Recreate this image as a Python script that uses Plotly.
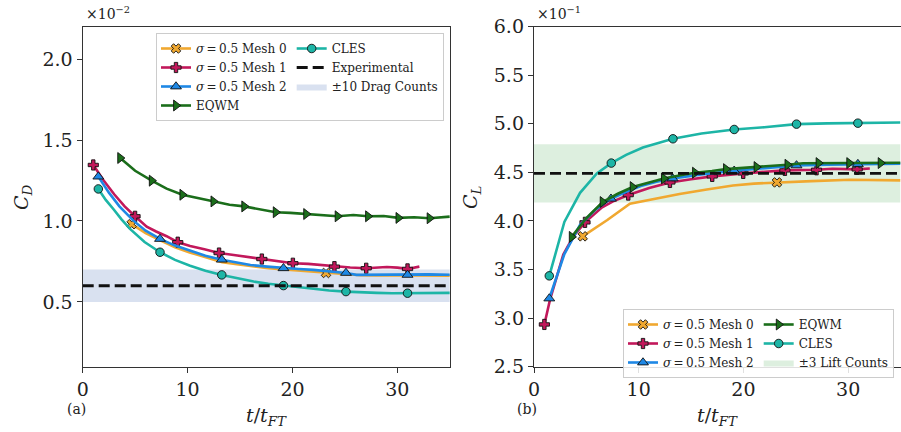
import plotly.graph_objects as go

# ---------------- Drag coefficient (values in units of 1e-2) ----------------
cd_mesh0_t = [4.67, 6.0, 7.4, 8.8, 10.2, 11.7, 13.3, 14.7, 16.2, 17.7, 19.2, 20.7, 22.0, 23.2,
              25.0, 26.5, 28.0, 30.0, 32.0, 35.0]
cd_mesh0 = [0.98, 0.925, 0.88, 0.838, 0.806, 0.778, 0.745, 0.733, 0.720, 0.708, 0.700, 0.693,
            0.686, 0.679, 0.672, 0.665, 0.664, 0.662, 0.663, 0.662]
cd_mesh0_marks = [0, 13]

cd_mesh1_t = [1.01, 2.0, 3.0, 4.0, 4.99, 6.1, 7.0, 8.0, 9.06, 10.24, 11.6, 13.0, 14.4, 15.7, 17.08,
              18.5, 20.04, 21.5, 22.8, 24.0, 25.5, 27.03, 28.0, 29.0, 30.0, 30.97, 32.1]
cd_mesh1 = [1.346, 1.25, 1.165, 1.09, 1.029, 0.965, 0.935, 0.906, 0.869, 0.845, 0.826, 0.802, 0.790,
            0.778, 0.765, 0.752, 0.739, 0.735, 0.727, 0.718, 0.713, 0.708, 0.712, 0.716, 0.712,
            0.704, 0.718]
cd_mesh1_marks = [0, 4, 8, 11, 14, 16, 19, 21, 25]

cd_mesh2_t = [1.49, 2.5, 3.5, 4.83, 6.0, 7.37, 8.8, 10.24, 11.7, 13.26, 14.6, 16.0, 17.6, 19.14,
              20.6, 22.0, 23.5, 25.1, 26.1, 27.5, 29.0, 30.97, 33.0, 35.0]
cd_mesh2 = [1.274, 1.175, 1.09, 1.002, 0.94, 0.889, 0.848, 0.817, 0.785, 0.761, 0.745, 0.728, 0.718,
            0.708, 0.703, 0.698, 0.690, 0.679, 0.667, 0.668, 0.668, 0.667, 0.670, 0.668]
cd_mesh2_marks = [0, 5, 9, 13, 17, 21]

cd_eqwm_t = [3.57, 5.0, 6.58, 8.0, 9.5, 11.0, 12.46, 14.0, 15.4, 16.9, 18.4, 19.8, 21.3, 22.8,
             24.3, 25.8, 27.2, 28.7, 30.1, 31.6, 33.07, 35.0]
cd_eqwm = [1.389, 1.31, 1.249, 1.200, 1.162, 1.140, 1.121, 1.100, 1.090, 1.074, 1.054, 1.050, 1.043,
           1.036, 1.029, 1.037, 1.029, 1.031, 1.019, 1.023, 1.017, 1.027]
cd_eqwm_marks = [0, 2, 4, 6, 8, 10, 12, 14, 16, 18, 20]

cd_cles_t = [1.49, 2.2, 2.92, 3.7, 4.51, 5.9, 7.37, 8.8, 10.24, 11.7, 13.26, 14.8, 16.3, 17.7,
             19.14, 20.6, 22.0, 23.5, 25.1, 26.6, 28.05, 29.5, 30.97, 33.0, 35.0]
cd_cles = [1.198, 1.13, 1.074, 1.01, 0.951, 0.87, 0.807, 0.76, 0.724, 0.693, 0.667, 0.645, 0.626,
           0.612, 0.601, 0.59, 0.58, 0.571, 0.564, 0.559, 0.556, 0.554, 0.554, 0.555, 0.556]
cd_cles_marks = [0, 6, 10, 14, 18, 22]

cd_exp = 0.6
cd_band = 0.1  # +/- 10 drag counts

# ---------------- Lift coefficient (values in units of 1e-1) ----------------
cl_mesh0_t = [4.65, 7.0, 9.16, 11.5, 13.9, 16.5, 19.0, 21.0, 23.2, 26.5, 30.2, 35.0]
cl_mesh0 = [3.842, 4.01, 4.178, 4.23, 4.277, 4.325, 4.366, 4.385, 4.397, 4.41, 4.425, 4.418]
cl_mesh0_marks = [0, 8]

cl_mesh1_t = [0.99, 1.53, 2.8, 3.75, 4.87, 6.5, 7.5, 9.0, 11.0, 12.98, 15.0, 17.02, 19.98, 22.0,
              23.96, 26.98, 28.5, 30.86, 32.07]
cl_mesh1 = [2.935, 3.19, 3.654, 3.84, 3.986, 4.14, 4.2, 4.267, 4.34, 4.397, 4.43, 4.459, 4.49, 4.505,
            4.521, 4.527, 4.537, 4.531, 4.541]
cl_mesh1_marks = [0, 4, 7, 9, 11, 12, 14, 15, 17]

cl_mesh2_t = [1.46, 2.9, 4.4, 5.9, 7.35, 8.8, 10.2, 11.7, 13.24, 16.0, 19.12, 22.0, 25.07, 28.0,
              30.93, 35.0]
cl_mesh2 = [3.202, 3.66, 3.96, 4.12, 4.229, 4.30, 4.36, 4.405, 4.438, 4.48, 4.517, 4.545, 4.572,
            4.58, 4.586, 4.59]
cl_mesh2_marks = [0, 4, 8, 10, 12, 14]

cl_eqwm_t = [3.6, 5.0, 6.55, 8.0, 9.42, 11.0, 12.4, 14.0, 15.37, 17.0, 18.33, 20.0, 21.25, 23.0,
             24.2, 25.7, 27.17, 28.7, 30.1, 31.5, 33.1, 35.0]
cl_eqwm = [3.836, 4.03, 4.195, 4.28, 4.349, 4.40, 4.438, 4.47, 4.497, 4.515, 4.534, 4.547, 4.555,
           4.568, 4.579, 4.595, 4.596, 4.59, 4.596, 4.598, 4.596, 4.6]
cl_eqwm_marks = [0, 2, 4, 6, 8, 10, 12, 14, 16, 18, 20]

cl_cles_t = [1.46, 2.9, 4.4, 6.0, 7.38, 8.8, 10.4, 11.8, 13.27, 16.0, 19.12, 22.0, 25.07, 28.0,
             30.93, 35.0]
cl_cles = [3.435, 3.99, 4.29, 4.49, 4.596, 4.68, 4.757, 4.80, 4.846, 4.90, 4.942, 4.965, 4.997,
           5.005, 5.007, 5.014]
cl_cles_marks = [0, 4, 8, 10, 12, 14]

cl_exp = 4.49
cl_band = 0.3  # +/- 3 lift counts

x_ticks = [0, 10, 20, 30]
cd_ticks = [0.5, 1.0, 1.5, 2.0]
cl_ticks = [2.5, 3.0, 3.5, 4.0, 4.5, 5.0, 5.5, 6.0]

# ---------------- styling ----------------
W, H = 901, 432
FONT = "DejaVu Serif"
C_MESH0 = "#F0A830"
C_MESH1 = "#C2185B"
C_MESH2 = "#1E88E5"
C_EQWM = "#1B6E1B"
C_CLES = "#1DB5A6"
SPINE = "#333333"
TEXT = "#222222"

SIGMA = "<i>σ</i>\u2009=\u20090.5"
series_style = {
    "mesh0": dict(color=C_MESH0, symbol="x", size=8.5, name=f"{SIGMA} Mesh 0"),
    "mesh1": dict(color=C_MESH1, symbol="cross", size=8.5, name=f"{SIGMA} Mesh 1"),
    "mesh2": dict(color=C_MESH2, symbol="triangle-up", size=9.5, name=f"{SIGMA} Mesh 2"),
    "eqwm": dict(color=C_EQWM, symbol="triangle-right", size=9.5, name="EQWM"),
    "cles": dict(color=C_CLES, symbol="circle", size=8.5, name="CLES"),
}

fig = go.Figure()


def add_series(key, t, v, marks, xa, ya):
    st = series_style[key]
    fig.add_trace(go.Scatter(x=t, y=v, mode="lines", line=dict(color=st["color"], width=2.6),
                             xaxis=xa, yaxis=ya, showlegend=False, hoverinfo="skip"))
    fig.add_trace(go.Scatter(x=[t[i] for i in marks], y=[v[i] for i in marks], mode="markers",
                             marker=dict(color=st["color"], symbol=st["symbol"], size=st["size"],
                                         line=dict(color="#111111", width=0.9)),
                             xaxis=xa, yaxis=ya, showlegend=False))


def add_legend_entry(key, legend, group, rank):
    st = series_style[key]
    fig.add_trace(go.Scatter(x=[None], y=[None], mode="lines+markers", name=st["name"],
                             line=dict(color=st["color"], width=2.6),
                             marker=dict(color=st["color"], symbol=st["symbol"], size=st["size"],
                                         line=dict(color="#111111", width=0.9)),
                             legend=legend, legendgroup=group, legendrank=rank,
                             xaxis="x" if legend == "legend" else "x2",
                             yaxis="y" if legend == "legend" else "y2"))


def add_band(center, half, xa, ya, color, name, legend, group, rank):
    fig.add_trace(go.Scatter(x=[0, 35, 35, 0, 0],
                             y=[center - half, center - half, center + half, center + half,
                                center - half],
                             mode="lines", fill="toself", fillcolor=color, line=dict(width=0),
                             name=name, legend=legend, legendgroup=group, legendrank=rank,
                             xaxis=xa, yaxis=ya, hoverinfo="skip"))


# ---- panel (a): drag ----
add_band(cd_exp, cd_band, "x", "y", "rgba(180,195,225,0.5)", "±10 Drag Counts", "legend", "b", 7)
add_series("mesh0", cd_mesh0_t, cd_mesh0, cd_mesh0_marks, "x", "y")
add_series("mesh1", cd_mesh1_t, cd_mesh1, cd_mesh1_marks, "x", "y")
add_series("mesh2", cd_mesh2_t, cd_mesh2, cd_mesh2_marks, "x", "y")
add_series("eqwm", cd_eqwm_t, cd_eqwm, cd_eqwm_marks, "x", "y")
add_series("cles", cd_cles_t, cd_cles, cd_cles_marks, "x", "y")
fig.add_trace(go.Scatter(x=[0, 35], y=[cd_exp, cd_exp], mode="lines", name="Experimental",
                         line=dict(color="#111111", width=2.8, dash="11px,5px"),
                         legend="legend", legendgroup="b", legendrank=6, xaxis="x", yaxis="y"))
add_legend_entry("mesh0", "legend", "a", 1)
add_legend_entry("mesh1", "legend", "a", 2)
add_legend_entry("mesh2", "legend", "a", 3)
add_legend_entry("eqwm", "legend", "a", 4)
add_legend_entry("cles", "legend", "b", 5)

# ---- panel (b): lift ----
add_band(cl_exp, cl_band, "x2", "y2", "rgba(170,215,175,0.4)", "±3 Lift Counts", "legend2", "d", 6)
add_series("mesh0", cl_mesh0_t, cl_mesh0, cl_mesh0_marks, "x2", "y2")
add_series("mesh1", cl_mesh1_t, cl_mesh1, cl_mesh1_marks, "x2", "y2")
add_series("mesh2", cl_mesh2_t, cl_mesh2, cl_mesh2_marks, "x2", "y2")
add_series("eqwm", cl_eqwm_t, cl_eqwm, cl_eqwm_marks, "x2", "y2")
add_series("cles", cl_cles_t, cl_cles, cl_cles_marks, "x2", "y2")
fig.add_trace(go.Scatter(x=[0, 35], y=[cl_exp, cl_exp], mode="lines", showlegend=False,
                         line=dict(color="#111111", width=2.8, dash="11px,5px"),
                         xaxis="x2", yaxis="y2"))
add_legend_entry("mesh0", "legend2", "c", 1)
add_legend_entry("mesh1", "legend2", "c", 2)
add_legend_entry("mesh2", "legend2", "c", 3)
add_legend_entry("eqwm", "legend2", "d", 4)
add_legend_entry("cles", "legend2", "d", 5)

# ---- axes ----
y_dom = [1 - 366.7 / H, 1 - 26.7 / H]
axis_common = dict(showline=True, mirror=True, linecolor=SPINE, linewidth=1.4, ticks="outside",
                   ticklen=5, tickwidth=1.2, tickcolor=SPINE, showgrid=False, zeroline=False,
                   automargin=False, tickfont=dict(family=FONT, size=19, color=TEXT))

legend_common = dict(orientation="h", traceorder="grouped",
                     font=dict(family=FONT, size=12, color=TEXT),
                     bgcolor="rgba(255,255,255,0.85)", bordercolor="#cccccc",
                     borderwidth=1, itemwidth=30, tracegroupgap=10, xanchor="left")

fig.update_layout(
    width=W, height=H, margin=dict(l=0, r=0, t=0, b=0, autoexpand=False),
    paper_bgcolor="white", plot_bgcolor="white",
    xaxis=dict(domain=[82.7 / W, 449.8 / W], range=[0, 35], tickvals=x_ticks, anchor="y",
               **axis_common),
    yaxis=dict(domain=y_dom, range=[0.1, 2.2], tickvals=cd_ticks,
               ticktext=[f"{v:.1f}" for v in cd_ticks], anchor="x", **axis_common),
    xaxis2=dict(domain=[534.0 / W, 900.5 / W], range=[0, 35], tickvals=x_ticks, anchor="y2",
                **axis_common),
    yaxis2=dict(domain=y_dom, range=[2.5, 6.0], tickvals=cl_ticks,
                ticktext=[f"{v:.1f}" for v in cl_ticks], anchor="x2", **axis_common),
    legend=dict(x=156 / W, y=1 - 33 / H, yanchor="top", **legend_common),
    legend2=dict(x=623 / W, y=1 - 378 / H, yanchor="bottom", **legend_common),
)


def label(text, px, py, size, angle=0):
    return dict(text=text, x=px / W, y=1 - py / H, xref="paper", yref="paper",
                xanchor="center", yanchor="middle", showarrow=False, textangle=angle,
                font=dict(family=FONT, size=size, color=TEXT))


fig.update_layout(annotations=[
    label("×10<sup>−2</sup>", 108, 13, 14),
    label("×10<sup>−1</sup>", 559, 13, 14),
    label("<i>C<sub>D</sub></i>", 22, 197, 19, -90),
    label("<i>C<sub>L</sub></i>", 471, 197, 19, -90),
    label("<i>t</i>/<i>t<sub>FT</sub></i>", 266, 416, 19),
    label("<i>t</i>/<i>t<sub>FT</sub></i>", 717, 416, 19),
    label("(a)", 76, 409, 14),
    label("(b)", 527, 409, 14),
])

fig.write_html("out.html")
